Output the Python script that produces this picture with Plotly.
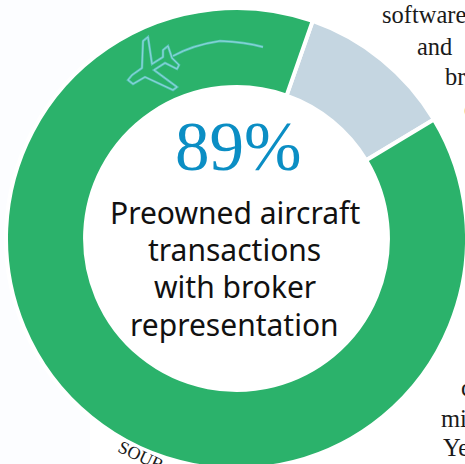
import plotly.graph_objects as go

# Share of preowned aircraft deals, by representation
slice_labels = ["Without broker", "With broker"]
slice_values = [11, 89]
slice_colors = ["#c5d6e1", "#2bb26b"]

headline = "89%"
caption_lines = ["Preowned aircraft", "transactions", "with broker", "representation"]

# Fragments of the surrounding copy that run past the edge of the graphic
side_text = [
    ("software", 382, 14),
    ("and", 417, 46),
    ("br", 445, 77),
    ("c", 464, 108),
    ("c", 461, 387),
    ("mi", 441, 418),
    ("Ye", 443, 447),
]
source_label = "SOUR"

W, H = 470, 470
CX, CY, R = 236.5, 238.5, 230.5


def px(x):
    return x / W


def py(y):
    return 1 - y / H


# Outline of the aeroplane and its trail, in page pixels
plane_outline = [
    (143, 41), (148, 37), (152, 64), (163, 57), (163, 50), (168, 46), (172, 58),
    (179, 65), (177, 69), (165, 63), (154, 70), (177, 87), (173, 90), (145, 77),
    (133, 84), (128, 80), (132, 75), (142, 68),
]
trail = [(173, 56), (193, 45), (220, 41), (245, 42), (263, 47)]


def outline_path(points):
    x0, y0 = points[0]
    body = "".join(f" L {px(x):.4f} {py(y):.4f}" for x, y in points[1:])
    return f"M {px(x0):.4f} {py(y0):.4f}{body} Z"


def trail_path(points):
    (x0, y0), (x1, y1), (x2, y2), (x3, y3), (x4, y4) = points
    return (
        f"M {px(x0):.4f} {py(y0):.4f} Q {px(x1):.4f} {py(y1):.4f} {px(x2):.4f} {py(y2):.4f}"
        f" Q {px(x3):.4f} {py(y3):.4f} {px(x4):.4f} {py(y4):.4f}"
    )


fig = go.Figure(
    go.Pie(
        labels=slice_labels,
        values=slice_values,
        marker=dict(colors=slice_colors, line=dict(color="white", width=4)),
        hole=0.657,
        rotation=19.3,
        direction="clockwise",
        sort=False,
        textinfo="none",
        hoverinfo="skip",
        showlegend=False,
        domain=dict(x=[px(CX - R), min(1, px(CX + R))], y=[py(CY + R), py(CY - R)]),
    )
)

shapes = [
    # Faint tinted panel behind the left of the ring
    dict(type="rect", xref="paper", yref="paper", x0=0, x1=px(90), y0=0, y1=1,
         fillcolor="#fcfdff", line=dict(width=0), layer="below"),
]
for path in (outline_path(plane_outline), trail_path(trail)):
    shapes.append(dict(type="path", xref="paper", yref="paper", path=path,
                       line=dict(color="#5cc4bd", width=2.4)))
    shapes.append(dict(type="path", xref="paper", yref="paper", path=path,
                       line=dict(color="#98dadd", width=0.8)))

annotations = [
    dict(text=headline, x=px(238), y=py(147), showarrow=False, xanchor="center", yanchor="middle",
         font=dict(family="Liberation Serif", size=69, color="#0b8ec4")),
]
for i, line in enumerate(caption_lines):
    annotations.append(dict(text=line, x=px(234.5), y=py(212 + i * 37.4), showarrow=False,
                            xanchor="center", yanchor="middle",
                            font=dict(family="Noto Sans", size=30, color="#111111")))
for text, x, y in side_text:
    annotations.append(dict(text=text, x=px(x), y=py(y), showarrow=False, xanchor="left",
                            yanchor="middle", xshift=-2,
                            font=dict(family="Liberation Serif", size=24.5, color="#1a1a1a")))
annotations.append(dict(text=source_label, x=px(141), y=py(456), showarrow=False, textangle=25,
                        xanchor="center", yanchor="middle",
                        font=dict(family="Liberation Serif", size=18, color="#1a1a1a")))

fig.update_layout(
    width=W,
    height=H,
    autosize=False,
    margin=dict(l=0, r=0, t=0, b=0),
    paper_bgcolor="white",
    plot_bgcolor="white",
    shapes=shapes,
    annotations=annotations,
)

fig.write_html(
    "out.html",
    config={"displayModeBar": False},
    post_script="document.documentElement.style.overflow='hidden';document.body.style.overflow='hidden';",
)
